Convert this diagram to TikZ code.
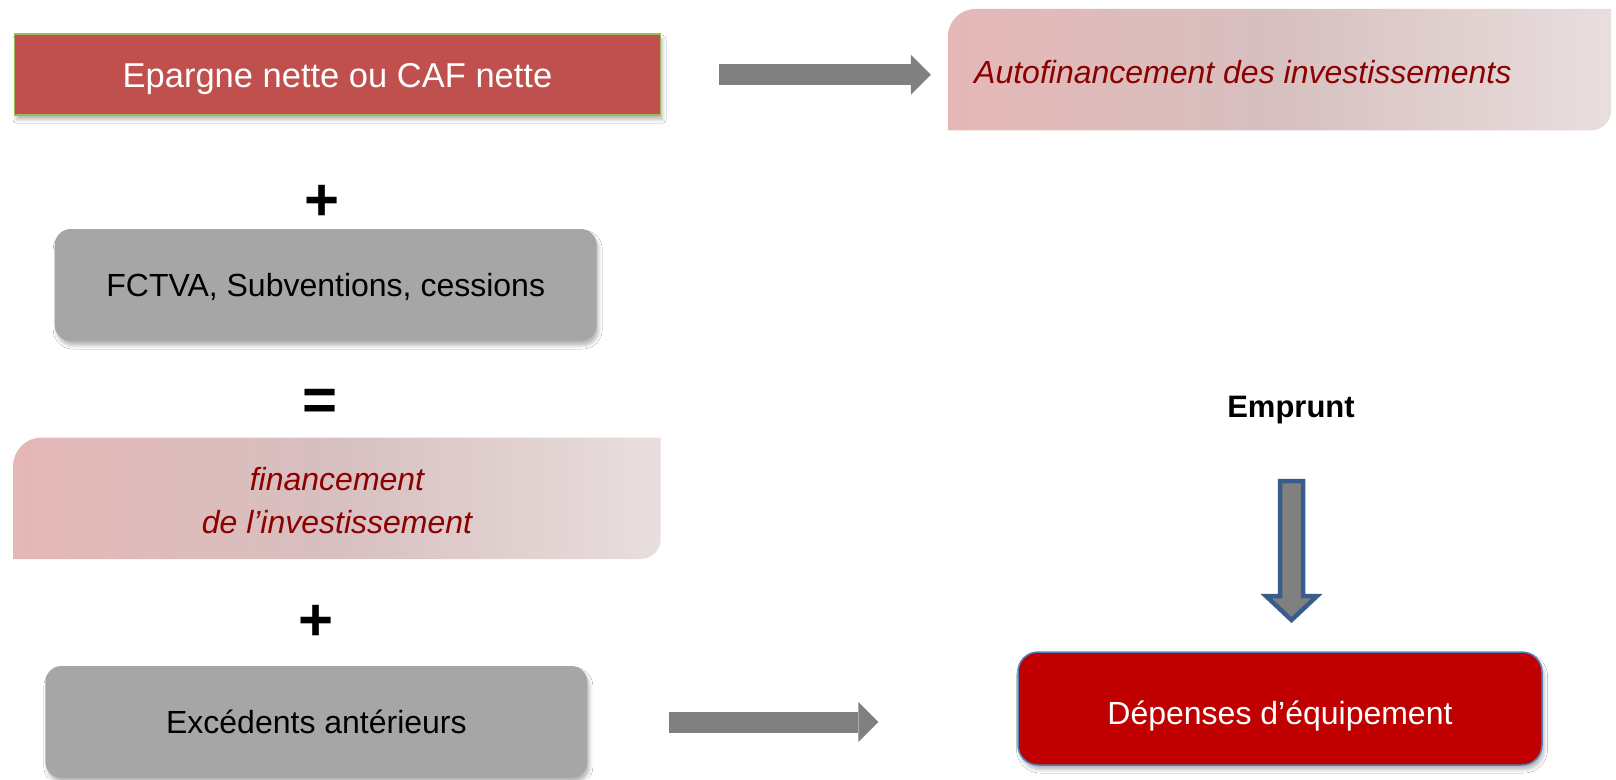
\documentclass[tikz,border=0pt]{standalone}
\usepackage{fontspec}
\setmainfont{Liberation Sans}
\usetikzlibrary{arrows.meta,shadows,shadows.blur,calc}
\definecolor{boxred}{RGB}{192,80,77}
\definecolor{boxgreen}{RGB}{155,187,89}
\definecolor{boxgray}{RGB}{166,166,166}
\definecolor{arrowgray}{RGB}{128,128,128}
\definecolor{deepred}{RGB}{192,0,0}
\definecolor{edgeblue}{RGB}{79,129,189}
\definecolor{arrowblue}{RGB}{56,93,138}
\definecolor{pinkL}{RGB}{229,183,183}
\definecolor{pinkM}{RGB}{215,192,192}
\definecolor{pinkR}{RGB}{233,222,222}
\definecolor{darkredtext}{RGB}{140,0,0}
\begin{document}
\begin{tikzpicture}[x=1pt,y=-1pt,
  softshadow/.style={blur shadow={shadow xshift=2pt,shadow yshift=-4.5pt,shadow blur radius=3.5pt,shadow opacity=28}},
  redbox/.style={rectangle,fill=boxred,draw=boxgreen,line width=1.5pt,text=white,
    minimum width=646pt,minimum height=81pt,inner sep=0pt,softshadow,
    font=\fontsize{34.5}{40}\selectfont},
  graybox/.style={rectangle,rounded corners=16pt,fill=boxgray,text=black,
    minimum width=542pt,minimum height=112pt,inner sep=0pt,softshadow,
    font=\fontsize{32}{38}\selectfont},
  spendbox/.style={rectangle,rounded corners=20pt,fill=deepred,draw=edgeblue,line width=1.5pt,text=white,
    minimum width=524pt,minimum height=113pt,inner sep=0pt,softshadow,
    font=\fontsize{32}{38}\selectfont},
  pinkframe/.style={rectangle,minimum width=#1,minimum height=121pt,inner sep=0pt},
  pinkfill/.style={left color=pinkL,right color=pinkR,middle color=pinkM},
  pinktext/.style={text=darkredtext,inner sep=0pt,font=\fontsize{32}{43}\selectfont\itshape},
  opsign/.style={inner sep=0pt,anchor=base,font=\fontsize{60}{66}\selectfont\bfseries},
  blockarrow/.style={draw=arrowgray,line width=21pt,
    -{Triangle[length=20pt,width=40pt,line width=0pt]}}
]
\fill[white] (0,0) rectangle (1616,779);
\useasboundingbox (0,0) rectangle (1616,779);

% boxes
\node[redbox,text height=25.7pt,text depth=0pt] (epargne) at (337.5,74.7) {Epargne nette ou CAF nette};
\node[graybox,text height=23.3pt,text depth=0pt] (fctva) at (325.7,285) {FCTVA, Subventions, cessions};
\node[graybox] (excedents) at (316.4,722) {Excédents antérieurs};
\node[spendbox,text height=31.9pt,text depth=0pt] (depenses) at (1280,708.5) {Dépenses d’équipement};

% pink frames
\node[pinkframe=663pt] (autof) at (1279.5,69.6) {};
\node[pinkframe=647pt] (finan) at (337,498.3) {};
\shade[pinkfill] (autof.south west) -- ($(autof.north west)+(0,28)$)
  .. controls ($(autof.north west)+(0,12.5)$) and ($(autof.north west)+(12.5,0)$) .. ($(autof.north west)+(28,0)$)
  -- (autof.north east) -- ($(autof.south east)+(0,-20)$)
  .. controls ($(autof.south east)+(0,-9)$) and ($(autof.south east)+(-9,0)$) .. ($(autof.south east)+(-20,0)$) -- cycle;
\shade[pinkfill] (finan.south west) -- ($(finan.north west)+(0,28)$)
  .. controls ($(finan.north west)+(0,12.5)$) and ($(finan.north west)+(12.5,0)$) .. ($(finan.north west)+(28,0)$)
  -- (finan.north east) -- ($(finan.south east)+(0,-20)$)
  .. controls ($(finan.south east)+(0,-9)$) and ($(finan.south east)+(-9,0)$) .. ($(finan.south east)+(-20,0)$) -- cycle;
\node[pinktext,anchor=west] (autoftext) at (974,72) {Autofinancement des investissements};
\node[pinktext,align=center] (finantext) at (337,500.5) {financement\\de l’investissement};

% operators
\node[opsign] (plusA) at (322,220.6) {+};
\node[opsign] (equal) at (320.5,420) {=};
\node[opsign] (plusB) at (316.5,640.6) {+};

% emprunt
\node[inner sep=0pt,font=\fontsize{31}{36}\selectfont\bfseries] (emprunt) at (1291,410) {Emprunt};

% arrows
\draw[blockarrow,shorten <=58pt,shorten >=17pt] (epargne.east) -- (epargne.east -| autof.west);
\draw[blockarrow,shorten <=81pt,shorten >=139pt] (excedents.east) -- (excedents.east -| depenses.west);
\draw[line width=4.5pt,draw=arrowblue,fill=arrowgray,line join=miter]
  (1280,481) -- (1303,481) -- (1303,596) -- (1317,596) -- (1291.5,620)
  -- (1266,596) -- (1280,596) -- cycle;
\end{tikzpicture}
\end{document}
